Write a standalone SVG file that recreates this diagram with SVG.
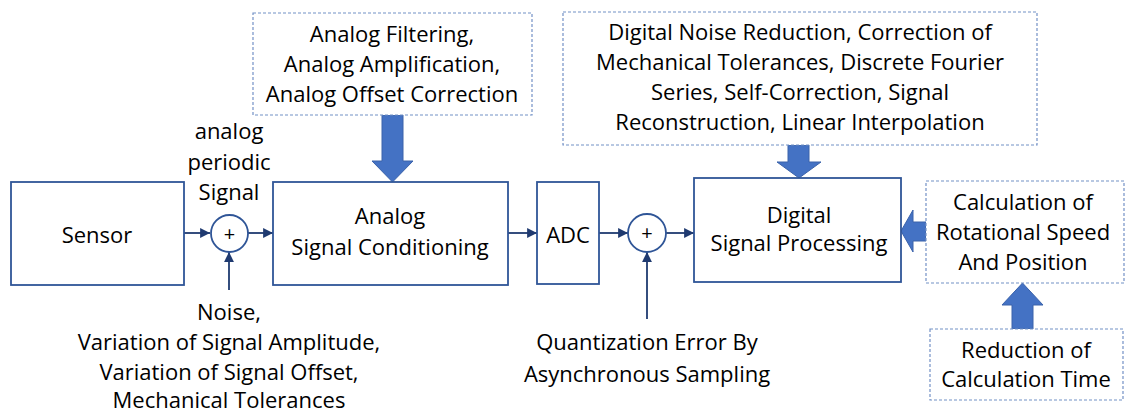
<svg xmlns="http://www.w3.org/2000/svg" width="1125" height="412" viewBox="0 0 1125 412">
  <defs>
    <style>
      text { font-family: "Open Sans", "Noto Sans", "Liberation Sans", sans-serif; font-size: 22px; fill: #000; text-anchor: middle; }
      .block { fill: #fff; stroke: #2f5597; stroke-width: 1.8; }
      .note { fill: #fff; stroke: #7391c6; stroke-width: 1.2; stroke-dasharray: 3 2; }
      .sum { fill: #fff; stroke: #2f5597; stroke-width: 1.8; }
      .wire { fill: none; stroke: #1f3a70; stroke-width: 1.8; marker-end: url(#tip); }
      .fat { fill: #4472c4; stroke: #3a62aa; stroke-width: 1; }
      .plus { font-size: 20px; }
    </style>
    <marker id="tip" viewBox="0 0 10 10" refX="10" refY="5" markerWidth="5.5" markerHeight="5.5" orient="auto" markerUnits="strokeWidth">
      <path d="M0,0 L10,5 L0,10 z" fill="#1f3a70"/>
    </marker>
  </defs>

  <!-- thin signal connectors -->
  <g id="connectors">
    <line class="wire" x1="184" y1="233" x2="210" y2="233"/>
    <line class="wire" x1="248" y1="233" x2="273" y2="233"/>
    <line class="wire" x1="229" y1="290" x2="229" y2="252"/>
    <line class="wire" x1="508" y1="233" x2="537" y2="233"/>
    <line class="wire" x1="599" y1="233" x2="628" y2="233"/>
    <line class="wire" x1="666" y1="233" x2="694" y2="233"/>
    <line class="wire" x1="647" y1="319" x2="647" y2="252"/>
    <!-- block arrows -->
    <path class="fat" d="M382,115 L403,115 L403,161 L413,161 L392.5,182 L372,161 L382,161 z"/>
    <path class="fat" d="M788,145 L809,145 L809,162 L821,162 L799,178 L777,162 L788,162 z"/>
    <path class="fat" d="M926,222 L913,222 L913,210 L901,231 L913,252 L913,241 L926,241 z"/>
    <path class="fat" d="M1012,329 L1033,329 L1033,305 L1043,305 L1022.5,283 L1002,305 L1012,305 z"/>
  </g>

  <g id="sensor">
    <rect class="block" x="11" y="182" width="173" height="103"/>
    <text x="97" y="243">Sensor</text>
  </g>

  <g id="signal-label">
    <text x="229" y="139">analog</text>
    <text x="229" y="170">periodic</text>
    <text x="229" y="200">Signal</text>
  </g>

  <g id="sum-analog">
    <circle class="sum" cx="229.5" cy="233.5" r="18.5"/>
    <text class="plus" x="229.5" y="240.5">+</text>
  </g>

  <g id="disturbances">
    <text x="229" y="320">Noise,</text>
    <text x="229" y="350">Variation of Signal Amplitude,</text>
    <text x="229" y="380">Variation of Signal Offset,</text>
    <text x="229" y="408">Mechanical Tolerances</text>
  </g>

  <g id="analog-conditioning">
    <rect class="block" x="273" y="182" width="235" height="103"/>
    <text x="390" y="224">Analog</text>
    <text x="390" y="255">Signal Conditioning</text>
  </g>

  <g id="analog-methods">
    <rect class="note" x="253" y="13" width="279" height="102"/>
    <text x="392" y="42">Analog Filtering,</text>
    <text x="392" y="72">Analog Amplification,</text>
    <text x="392" y="102">Analog Offset Correction</text>
  </g>

  <g id="adc">
    <rect class="block" x="537" y="182" width="62" height="102"/>
    <text x="568" y="243">ADC</text>
  </g>

  <g id="sum-digital">
    <circle class="sum" cx="647" cy="233" r="19"/>
    <text class="plus" x="647" y="240">+</text>
  </g>

  <g id="quantization">
    <text x="647" y="350">Quantization Error By</text>
    <text x="647" y="382">Asynchronous Sampling</text>
  </g>

  <g id="digital-processing">
    <rect class="block" x="694" y="178" width="207" height="104"/>
    <text x="799" y="223">Digital</text>
    <text x="799" y="251">Signal Processing</text>
  </g>

  <g id="digital-methods">
    <rect class="note" x="563" y="12" width="474" height="133"/>
    <text x="800" y="40">Digital Noise Reduction, Correction of</text>
    <text x="800" y="70">Mechanical Tolerances, Discrete Fourier</text>
    <text x="800" y="100">Series, Self-Correction, Signal</text>
    <text x="800" y="130">Reconstruction, Linear Interpolation</text>
  </g>

  <g id="speed-position">
    <rect class="note" x="926" y="181" width="198" height="102"/>
    <text x="1023" y="210">Calculation of</text>
    <text x="1023" y="240">Rotational Speed</text>
    <text x="1023" y="270">And Position</text>
  </g>

  <g id="calc-time">
    <rect class="note" x="930" y="329" width="193" height="71"/>
    <text x="1026" y="358">Reduction of</text>
    <text x="1026" y="387">Calculation Time</text>
  </g>
</svg>
